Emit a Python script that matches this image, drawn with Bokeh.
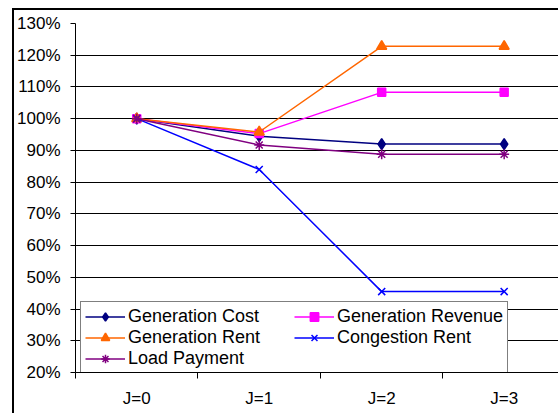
from bokeh.plotting import figure
from bokeh.models import (Range1d, FixedTicker, NumeralTickFormatter, Legend,
                          LegendItem)
from bokeh.embed import file_html
from bokeh.resources import INLINE

# Iteration steps and the relative value of each quantity (1.0 = 100%)
steps = ["J=0", "J=1", "J=2", "J=3"]
gen_cost = [1.00, 0.945, 0.920, 0.920]
gen_revenue = [1.00, 0.953, 1.083, 1.083]
gen_rent = [1.00, 0.958, 1.228, 1.228]
congestion_rent = [1.00, 0.840, 0.455, 0.455]
load_payment = [1.00, 0.917, 0.888, 0.888]

y_ticks = [0.2, 0.3, 0.4, 0.5, 0.6, 0.7, 0.8, 0.9, 1.0, 1.1, 1.2, 1.3]

xs = list(range(len(steps)))
FONT = "Liberation Sans"

p = figure(width=544, height=403, output_backend="svg", toolbar_location=None,
           x_range=Range1d(-0.5, 3.46), y_range=Range1d(0.2, 1.3),
           min_border_left=57, min_border_top=13, min_border_bottom=43,
           min_border_right=0)
# chart-area border on the left and top edges of the figure
p.styles = {"box-sizing": "content-box", "overflow": "hidden",
            "border-left": "2px solid black", "border-top": "2px solid black",
            "margin-left": "12px", "margin-top": "8px"}
p.outline_line_color = None
p.background_fill_color = "white"
p.border_fill_color = "white"

# x axis: labels at each step, tick marks between steps
p.xaxis.ticker = FixedTicker(ticks=xs, minor_ticks=[-0.5, 0.5, 1.5, 2.5])
p.xaxis.major_label_overrides = {i: s for i, s in enumerate(steps)}
p.xaxis.major_tick_line_color = None
p.xaxis.major_tick_out = 0
p.xaxis.major_tick_in = 0
p.xaxis.minor_tick_line_color = "black"
p.xaxis.minor_tick_out = 6
p.xaxis.minor_tick_in = 0
p.xaxis.major_label_standoff = 10
p.xaxis.axis_line_color = "black"

p.yaxis.ticker = FixedTicker(ticks=y_ticks, minor_ticks=[])
p.yaxis.formatter = NumeralTickFormatter(format="0%")
p.yaxis.major_tick_out = 5
p.yaxis.major_tick_in = 0
p.yaxis.major_tick_line_color = "black"
p.yaxis.major_label_standoff = 10
p.yaxis.axis_line_color = "black"

for ax in (p.xaxis, p.yaxis):
    ax.major_label_text_font = FONT
    ax.major_label_text_font_size = "17px"
    ax.major_label_text_color = "black"

p.xgrid.visible = False
p.ygrid.ticker = FixedTicker(ticks=y_ticks)
p.ygrid.grid_line_color = "black"
p.ygrid.grid_line_width = 1

series = [
    ("Generation Cost", gen_cost, "#000080", "diamond", 11),
    ("Generation Revenue", gen_revenue, "#FF00FF", "square", 8),
    ("Generation Rent", gen_rent, "#FF6600", "triangle", 10),
    ("Congestion Rent", congestion_rent, "#0000FF", "x", 10),
    ("Load Payment", load_payment, "#800080", "asterisk", 10),
]

items = []
for name, vals, color, marker, size in series:
    ln = p.line(xs, vals, line_color=color, line_width=1.5)
    mk = p.scatter(xs, vals, marker=marker, size=size, fill_color=color,
                   line_color=color, line_width=1.5)
    items.append(LegendItem(label=name, renderers=[ln, mk]))

legend = Legend(items=items, location=(5, -2), orientation="horizontal",
                ncols=2, glyph_width=40, glyph_height=21, label_height=21,
                label_width=166, label_standoff=3, padding=4, spacing=0,
                margin=0, border_line_color="black", border_line_width=1,
                background_fill_color="white", background_fill_alpha=1.0,
                label_text_font=FONT, label_text_font_size="18px",
                label_text_color="black")
p.add_layout(legend, "center")

open("out.html", "w").write(file_html(p, INLINE))
